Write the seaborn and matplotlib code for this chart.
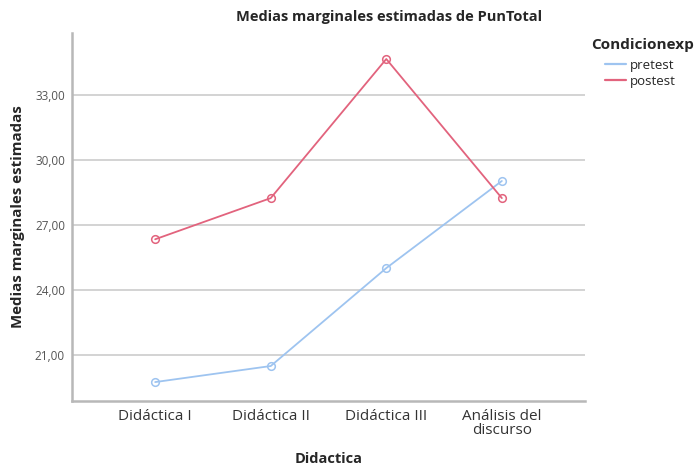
import numpy as np
import pandas as pd
import matplotlib
matplotlib.use('Agg')
import matplotlib.pyplot as plt
import seaborn as sns
from matplotlib.ticker import FuncFormatter
from matplotlib.lines import Line2D

# datos
categorias = ['Didáctica I', 'Didáctica II', 'Didáctica III', 'Análisis del\ndiscurso']
pretest = [19.74, 20.48, 25.0, 29.02]
postest = [26.33, 28.23, 34.65, 28.23]
grupos = ['pretest', 'postest']

df = pd.DataFrame({
    'Didactica': categorias * 2,
    'PunTotal': pretest + postest,
    'Condicionexp': [grupos[0]] * 4 + [grupos[1]] * 4,
})

sns.set_style('white')
plt.rcParams['font.family'] = ['Open Sans', 'DejaVu Sans']

fig = plt.figure(figsize=(6.94, 4.68), dpi=100)
ax = fig.add_axes([0.1037, 0.1438, 0.7393, 0.7857])

colores = {'pretest': '#9ec4f0', 'postest': '#e2637d'}
sns.lineplot(data=df, x='Didactica', y='PunTotal', hue='Condicionexp',
             palette=colores, sort=False, marker='o', markersize=5.5,
             linewidth=1.3, ax=ax, legend=False)
# marcadores huecos del color de la línea
for ln in ax.lines:
    ln.set_markerfacecolor('none')
    ln.set_markeredgecolor(ln.get_color())
    ln.set_markeredgewidth(1.1)

ax.set_xlim(-0.72, 3.72)
ax.set_ylim(18.88, 35.85)
ax.set_yticks([21, 24, 27, 30, 33])
ax.yaxis.set_major_formatter(FuncFormatter(lambda v, p: f'{v:.2f}'.replace('.', ',')))
ax.grid(axis='y', color='#cccccc', linewidth=1.2)
ax.set_axisbelow(True)
for s in ['top', 'right']:
    ax.spines[s].set_visible(False)
for s in ['left', 'bottom']:
    ax.spines[s].set_color('#b8b8b8')
    ax.spines[s].set_linewidth(1.8)
ax.tick_params(axis='y', length=0, labelsize=8.5, labelcolor='#555555', pad=5)
ax.tick_params(axis='x', length=0, labelsize=11, labelcolor='#333333', pad=6)
for lbl in ax.get_xticklabels():
    lbl.set_linespacing(0.9)

ax.set_xlabel('Didactica', fontsize=10.5, fontweight='bold', labelpad=10)
ax.set_ylabel('Medias marginales estimadas', fontsize=10.8, fontweight='bold', labelpad=7)
fig.text(389 / 694, 1 - 17 / 468, 'Medias marginales estimadas de PunTotal',
         ha='center', va='center', fontsize=10.5, fontweight='bold')

# leyenda
fig.text(591 / 694, 1 - 45 / 468, 'Condicionexp', ha='left', va='center',
         fontsize=11, fontweight='bold')
handles = [Line2D([0], [0], color=colores[g], linewidth=1.6) for g in grupos]
fig.legend(handles, grupos, loc='upper left',
           bbox_to_anchor=(605 / 694, 1 - 59 / 468), frameon=False,
           fontsize=9.5, handlelength=1.6, handletextpad=0.3,
           labelspacing=0.2, borderaxespad=0, borderpad=0)

fig.savefig('out.png', dpi=100)
